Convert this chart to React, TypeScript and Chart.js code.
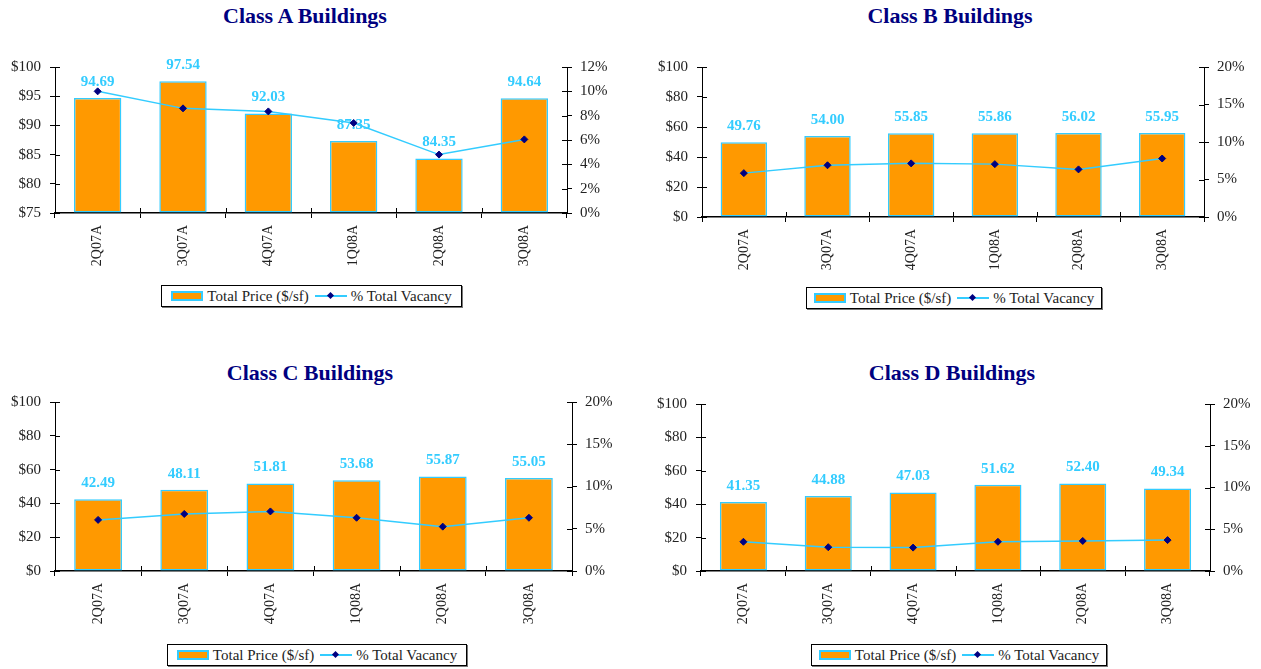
import React, { useEffect, useRef } from 'react';
import { Chart, registerables } from 'chart.js';

Chart.register(...registerables);

// ---------- data ----------
const categories = ['2Q07A', '3Q07A', '4Q07A', '1Q08A', '2Q08A', '3Q08A'];

const priceA = [94.69, 97.54, 92.03, 87.35, 84.35, 94.64];
const vacancyA = [10.0, 8.6, 8.35, 7.4, 4.8, 6.05];

const priceB = [49.76, 54.0, 55.85, 55.86, 56.02, 55.95];
const vacancyB = [5.85, 6.9, 7.15, 7.05, 6.35, 7.8];

const priceC = [42.49, 48.11, 51.81, 53.68, 55.87, 55.05];
const vacancyC = [6.05, 6.75, 7.05, 6.3, 5.25, 6.3];

const priceD = [41.35, 44.88, 47.03, 51.62, 52.4, 49.34];
const vacancyD = [3.5, 2.85, 2.8, 3.5, 3.6, 3.7];

// axis ranges: [min, max, step]
const priceAxisA = [75, 100, 5];
const vacancyAxisA = [0, 12, 2];
const priceAxisBCD = [0, 100, 20];
const vacancyAxisBCD = [0, 20, 5];

const priceLabel = 'Total Price ($/sf)';
const vacancyLabel = '% Total Vacancy';

// ---------- styles ----------
const ORANGE = '#FF9900';
const CYAN = '#33CCFF';
const NAVY = '#000080';
const FONT = "'Liberation Serif', 'DejaVu Serif', serif";
const TICK_COLOR = '#222';

const crossTicks = {
  id: 'crossTicks',
  afterDraw(chart: any) {
    const ctx = chart.ctx;
    const a = chart.chartArea;
    const { x, y, y1 } = chart.scales;
    ctx.save();
    ctx.strokeStyle = '#000';
    ctx.lineWidth = 1;
    const seg = (x0: number, y0: number, x2: number, y2: number) => {
      ctx.beginPath();
      ctx.moveTo(x0, y0);
      ctx.lineTo(x2, y2);
      ctx.stroke();
    };
    y.ticks.forEach((_t: any, i: number) => {
      const py = Math.round(y.getPixelForTick(i)) + 0.5;
      seg(a.left, py, a.left + 5, py);
    });
    y1.ticks.forEach((_t: any, i: number) => {
      const py = Math.round(y1.getPixelForTick(i)) + 0.5;
      seg(a.right - 5, py, a.right, py);
    });
    const n = x.ticks.length;
    const half = (x.getPixelForValue(1) - x.getPixelForValue(0)) / 2;
    for (let i = 0; i <= n; i++) {
      const px = Math.round(x.getPixelForValue(i) - half) + 0.5;
      seg(px, a.bottom - 5, px, a.bottom);
    }
    ctx.restore();
  },
};

const barLabels = {
  id: 'barLabels',
  beforeDatasetsDraw(chart: any) {
    const ctx = chart.ctx;
    const meta = chart.getDatasetMeta(0);
    const data = chart.data.datasets[0].data;
    ctx.save();
    ctx.font = `bold 15px ${FONT}`;
    ctx.fillStyle = CYAN;
    ctx.textAlign = 'center';
    ctx.textBaseline = 'middle';
    meta.data.forEach((el: any, i: number) => {
      ctx.fillText(Number(data[i]).toFixed(2), el.x, el.y - 16);
    });
    ctx.restore();
  },
};

type PanelProps = {
  title: string;
  prices: number[];
  vacancies: number[];
  priceAxis: number[];
  vacancyAxis: number[];
  box: { left: number; top: number; width: number; height: number };
  leftW: number;
  rightW: number;
  topPad: number;
  xH: number;
  titlePos: { x: number; y: number };
  legend: { left: number; top: number; width: number };
};

function Panel(p: PanelProps) {
  const ref = useRef<HTMLCanvasElement>(null);
  useEffect(() => {
    if (!ref.current) return;
    const yFont = { family: FONT, size: 15 };
    const xFont = { family: FONT, size: 14 };
    const chart = new Chart(ref.current, {
      type: 'bar',
      data: {
        labels: categories,
        datasets: [
          {
            type: 'bar',
            label: priceLabel,
            data: p.prices,
            backgroundColor: ORANGE,
            borderColor: CYAN,
            borderWidth: 1.5,
            borderSkipped: false,
            barPercentage: 0.555,
            categoryPercentage: 1,
            base: p.priceAxis[0],
            yAxisID: 'y',
            order: 2,
          } as any,
          {
            type: 'line',
            label: vacancyLabel,
            data: p.vacancies,
            borderColor: CYAN,
            borderWidth: 1.5,
            pointStyle: 'rectRot',
            pointRadius: 3.5,
            pointBackgroundColor: NAVY,
            pointBorderColor: NAVY,
            pointBorderWidth: 1,
            tension: 0,
            yAxisID: 'y1',
            order: 1,
          } as any,
        ],
      },
      options: {
        responsive: false,
        animation: false,
        devicePixelRatio: 1,
        layout: { padding: { top: p.topPad, left: 0, right: 0, bottom: 0 } },
        plugins: {
          legend: { display: false },
          title: { display: false },
          tooltip: { enabled: false },
        },
        scales: {
          x: {
            grid: { drawOnChartArea: false, color: '#000', tickLength: 5, offset: true },
            border: { color: '#000', width: 1.5 },
            ticks: {
              font: xFont,
              color: TICK_COLOR,
              maxRotation: 90,
              minRotation: 90,
              padding: 7,
              autoSkip: false,
            },
            afterFit: (s: any) => {
              s.height = p.xH;
            },
          },
          y: {
            position: 'left',
            min: p.priceAxis[0],
            max: p.priceAxis[1],
            grid: { drawOnChartArea: false, color: '#000', tickLength: 5 },
            border: { color: '#000', width: 1 },
            ticks: {
              stepSize: p.priceAxis[2],
              font: yFont,
              color: TICK_COLOR,
              padding: 9,
              callback: (v: any) => '$' + v,
            },
            afterFit: (s: any) => {
              s.width = p.leftW;
            },
          },
          y1: {
            position: 'right',
            min: p.vacancyAxis[0],
            max: p.vacancyAxis[1],
            grid: { drawOnChartArea: false, color: '#000', tickLength: 5 },
            border: { color: '#000', width: 1 },
            ticks: {
              stepSize: p.vacancyAxis[2],
              font: yFont,
              color: TICK_COLOR,
              padding: 8,
              callback: (v: any) => v + '%',
            },
            afterFit: (s: any) => {
              s.width = p.rightW;
            },
          },
        },
      } as any,
      plugins: [crossTicks, barLabels],
    });
    return () => chart.destroy();
  }, []);

  return (
    <>
      <div
        style={{
          position: 'absolute',
          left: p.titlePos.x,
          top: p.titlePos.y,
          transform: 'translate(-50%, -50%)',
          font: `bold 22px ${FONT}`,
          color: NAVY,
          whiteSpace: 'nowrap',
        }}
      >
        {p.title}
      </div>
      <canvas
        ref={ref}
        width={p.box.width}
        height={p.box.height}
        style={{
          position: 'absolute',
          left: p.box.left,
          top: p.box.top,
          width: p.box.width,
          height: p.box.height,
        }}
      />
      <div
        style={{
          position: 'absolute',
          left: p.legend.left,
          top: p.legend.top,
          width: p.legend.width,
          height: 22,
          boxSizing: 'border-box',
          border: '1px solid #000',
          boxShadow: '1px 1px 0 #777',
          display: 'flex',
          alignItems: 'center',
          justifyContent: 'center',
          font: `15px ${FONT}`,
          color: TICK_COLOR,
          whiteSpace: 'nowrap',
          background: '#fff',
        }}
      >
        <span
          style={{
            display: 'inline-block',
            width: 28,
            height: 6,
            background: ORANGE,
            border: `2px solid ${CYAN}`,
            marginRight: 4,
          }}
        />
        <span>{priceLabel}</span>
        <span
          style={{
            display: 'inline-block',
            position: 'relative',
            width: 32,
            height: 10,
            margin: '0 4px 0 6px',
          }}
        >
          <span
            style={{
              position: 'absolute',
              left: 0,
              right: 0,
              top: 4,
              height: 2,
              background: CYAN,
            }}
          />
          <span
            style={{
              position: 'absolute',
              left: 13,
              top: 2,
              width: 5,
              height: 5,
              background: NAVY,
              transform: 'rotate(45deg)',
            }}
          />
        </span>
        <span>{vacancyLabel}</span>
      </div>
    </>
  );
}

export default function App() {
  return (
    <div
      style={{
        position: 'absolute',
        left: 0,
        top: 0,
        width: 1261,
        height: 669,
        background: '#fff',
        overflow: 'hidden',
      }}
    >
      <Panel
        title="Class A Buildings"
        prices={priceA}
        vacancies={vacancyA}
        priceAxis={priceAxisA}
        vacancyAxis={vacancyAxisA}
        box={{ left: 0, top: 37, width: 630, height: 240 }}
        leftW={55}
        rightW={63}
        topPad={30}
        xH={64}
        titlePos={{ x: 305, y: 16 }}
        legend={{ left: 161, top: 285, width: 301 }}
      />
      <Panel
        title="Class B Buildings"
        prices={priceB}
        vacancies={vacancyB}
        priceAxis={priceAxisBCD}
        vacancyAxis={vacancyAxisBCD}
        box={{ left: 630, top: 37, width: 630, height: 240 }}
        leftW={72}
        rightW={56}
        topPad={30}
        xH={60}
        titlePos={{ x: 950, y: 16 }}
        legend={{ left: 806, top: 287, width: 296 }}
      />
      <Panel
        title="Class C Buildings"
        prices={priceC}
        vacancies={vacancyC}
        priceAxis={priceAxisBCD}
        vacancyAxis={vacancyAxisBCD}
        box={{ left: 0, top: 372, width: 630, height: 268 }}
        leftW={55}
        rightW={58}
        topPad={30}
        xH={69}
        titlePos={{ x: 310, y: 373 }}
        legend={{ left: 167, top: 644, width: 300 }}
      />
      <Panel
        title="Class D Buildings"
        prices={priceD}
        vacancies={vacancyD}
        priceAxis={priceAxisBCD}
        vacancyAxis={vacancyAxisBCD}
        box={{ left: 630, top: 374, width: 630, height: 266 }}
        leftW={71}
        rightW={50}
        topPad={30}
        xH={69}
        titlePos={{ x: 952, y: 373 }}
        legend={{ left: 811, top: 644, width: 296 }}
      />
    </div>
  );
}
